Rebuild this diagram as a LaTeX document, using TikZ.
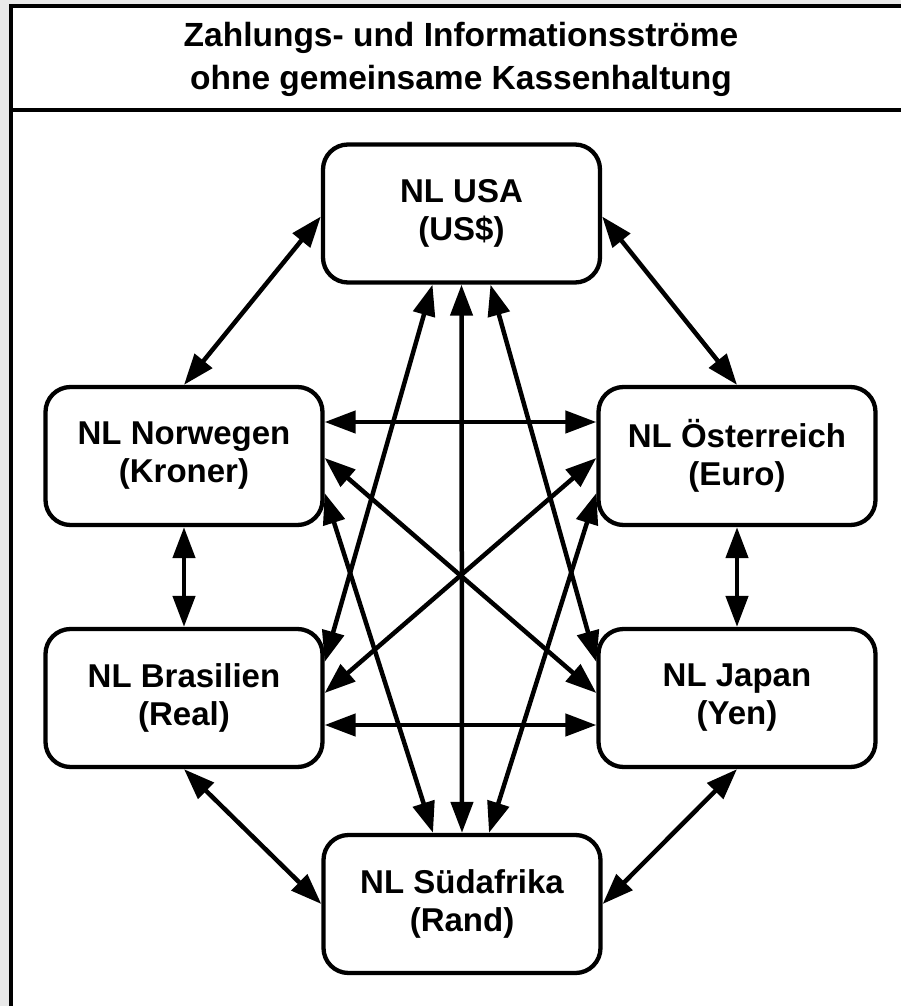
\documentclass[tikz,border=0pt]{standalone}
\usepackage{fontspec}
\setmainfont{Liberation Sans}
\usetikzlibrary{arrows.meta}
\definecolor{pagegray}{RGB}{233,233,233}
\begin{document}
\begin{tikzpicture}[x=1pt,y=-1pt,
  office/.style={draw, line width=4.3pt, rounded corners=25pt, fill=white,
    minimum width=277pt, minimum height=138pt, inner sep=0pt, align=center,
    font=\bfseries\fontsize{33}{38}\selectfont},
  flow/.style={line width=4.5pt,
    {Triangle[length=31pt,width=22pt]}-{Triangle[length=31pt,width=22pt]}},
  frameline/.style={line width=4.5pt}]
\useasboundingbox (0,0) rectangle (901,1006);
% page background and frame
\fill[pagegray] (0,0) rectangle (901,1006);
\fill[white] (11,6) rectangle (905,1010);
\draw[frameline] (905,6) -- (11,6) -- (11,1010);
\draw[frameline] (11,110) -- (905,110);
% title
\node[align=center, inner sep=0pt, font=\bfseries\fontsize{33.5}{43}\selectfont]
  (title) at (461,59) {Zahlungs- und Informationsströme\\ohne gemeinsame Kassenhaltung};
% subsidiaries
\node[office] (usa) at (461.5,213.5) {NL USA\\(US\$)};
\node[office] (nor) at (184,456) {NL Norwegen\\(Kroner)};
\node[office] (oes) at (737,456) {NL Österreich\\(Euro)};
\node[office] (bra) at (184,698) {NL Brasilien\\(Real)};
\node[office] (jap) at (737,698) {NL Japan\\(Yen)};
\node[office] (sue) at (462,904) {NL Südafrika\\(Rand)};
% outer ring
\draw[flow] (nor.north) -- ([yshift=-3pt]usa.west);
\draw[flow] ([yshift=-3pt]usa.east) -- (oes.north);
\draw[flow] (nor.south) -- (bra.north);
\draw[flow] (oes.south) -- (jap.north);
\draw[flow] (bra.south) -- (sue.west);
\draw[flow] (jap.south) -- (sue.east);
% horizontal links
\draw[flow] ([yshift=34pt]nor.east) -- ([yshift=34pt]oes.west);
\draw[flow] ([yshift=-27pt]bra.east) -- ([yshift=-27pt]jap.west);
% diagonals
\draw[flow] ([yshift=-2pt]nor.east) -- ([yshift=5pt]jap.west);
\draw[flow] ([yshift=-2pt]oes.west) -- ([yshift=5pt]bra.east);
\draw[flow] ([xshift=-29pt]usa.south) -- ([yshift=36pt]bra.east);
\draw[flow] ([xshift=29pt]usa.south) -- ([yshift=36pt]jap.west);
\draw[flow] ([yshift=-37pt]nor.east) -- ([xshift=-29pt]sue.north);
\draw[flow] ([yshift=-37pt]oes.west) -- ([xshift=27pt]sue.north);
\draw[flow] (usa.south) -- (sue.north);
\end{tikzpicture}
\end{document}
